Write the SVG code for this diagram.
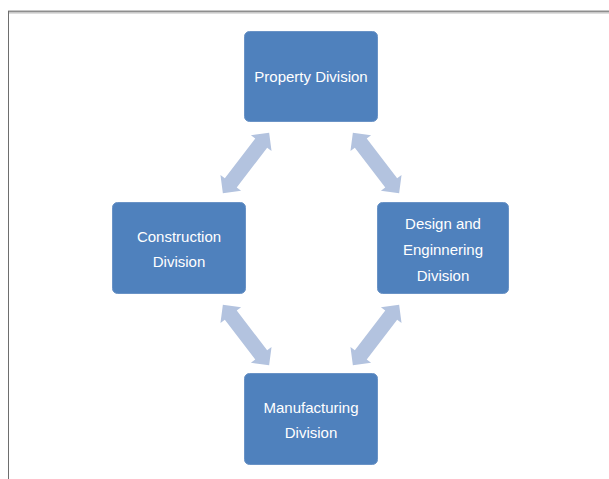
<svg xmlns="http://www.w3.org/2000/svg" width="609" height="479" viewBox="0 0 609 479">
<style>
.box{fill:#4F81BD;stroke:#6A93C6;stroke-width:1}
.lbl{font-family:"Liberation Sans",Arial,sans-serif;font-size:15px;fill:#FFFFFF;text-anchor:middle}
.arr{fill:#B3C3DF}
</style>
<defs>
<polygon id="dbl" points="-38,0 -25,-13 -25,-7.5 25,-7.5 25,-13 38,0 25,13 25,7.5 -25,7.5 -25,13"/>
</defs>
<rect x="0" y="0" width="609" height="479" fill="#FFFFFF"/>
<g id="frame">
<line x1="8" y1="11.5" x2="609" y2="11.5" stroke="#8E8E8E" stroke-width="2"/>
<line x1="8" y1="13.2" x2="609" y2="13.2" stroke="#D0D0D0" stroke-width="1"/>
<line x1="8.5" y1="11" x2="8.5" y2="479" stroke="#6E6E6E" stroke-width="1"/>
</g>
<g id="connectors">
<use href="#dbl" class="arr" transform="translate(246,163) rotate(-52.5)"/>
<use href="#dbl" class="arr" transform="translate(376,163) rotate(52.5)"/>
<use href="#dbl" class="arr" transform="translate(246,335) rotate(52.5)"/>
<use href="#dbl" class="arr" transform="translate(376,335) rotate(-52.5)"/>
</g>
<g id="property">
<rect class="box" x="244.5" y="31.5" width="133" height="90" rx="5"/>
<text class="lbl" x="311" y="82">Property Division</text>
</g>
<g id="construction">
<rect class="box" x="112.5" y="202.5" width="133" height="91" rx="5"/>
<text class="lbl" x="179" y="242">Construction</text>
<text class="lbl" x="179" y="267">Division</text>
</g>
<g id="design">
<rect class="box" x="377.5" y="202.5" width="131" height="91" rx="5"/>
<text class="lbl" x="443" y="229">Design and</text>
<text class="lbl" x="443" y="255">Enginnering</text>
<text class="lbl" x="443" y="281">Division</text>
</g>
<g id="manufacturing">
<rect class="box" x="244.5" y="373.5" width="133" height="91" rx="5"/>
<text class="lbl" x="311" y="413">Manufacturing</text>
<text class="lbl" x="311" y="438">Division</text>
</g>
</svg>
